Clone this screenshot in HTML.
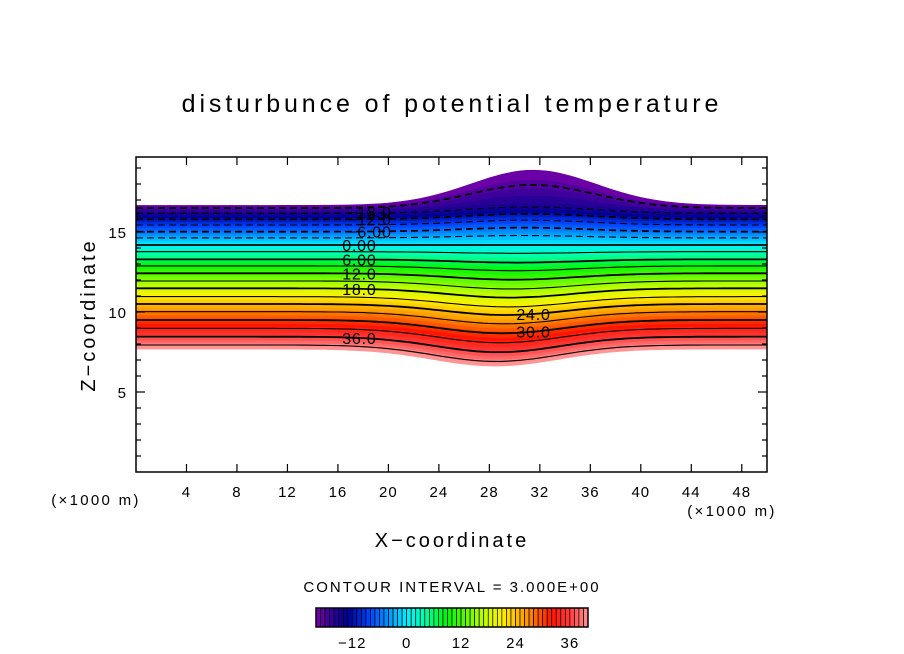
<!DOCTYPE html>
<html><head><meta charset="utf-8"><style>
body{margin:0;background:#fff;}
svg{display:block;font-family:"Liberation Sans",sans-serif;}
</style></head><body>
<svg id="chart" width="904" height="654" viewBox="0 0 904 654">
<text x="452" y="112" font-size="25" text-anchor="middle" letter-spacing="3.9">disturbunce of potential temperature</text>
<g id="fills"></g>
<g id="lines"></g>
<g id="labels" font-size="16" letter-spacing="0.8"></g>
<rect x="136" y="157" width="631" height="315" fill="none" stroke="#000" stroke-width="1.5"/>
<g id="axes" font-size="15" letter-spacing="1"></g>
<text x="96" y="505" font-size="15" text-anchor="middle" letter-spacing="2.3">(×1000 m)</text>
<text x="732" y="516" font-size="15" text-anchor="middle" letter-spacing="2.3">(×1000 m)</text>
<text x="452" y="547" font-size="20" text-anchor="middle" letter-spacing="3">X−coordinate</text>
<text transform="translate(95,315) rotate(-90)" font-size="20" text-anchor="middle" letter-spacing="3">Z−coordinate</text>
<text x="452" y="592" font-size="15" text-anchor="middle" letter-spacing="2">CONTOUR INTERVAL = 3.000E+00</text>
<g id="cbar" font-size="15" letter-spacing="1"></g>
</svg>
<script>
const levels=[-18,-15,-12,-9,-6,-3,0,3,6,9,12,15,18,21,24,27,30,33,36,39];
const baseZ=[16.5,16.17,15.79,15.44,15.02,14.63,14.19,13.77,13.29,12.88,12.42,11.94,11.48,10.96,10.5,10.02,9.5,8.98,8.46,7.94];
const peakShift=[1.44,0.4,0.35,0.3,0.25,0.15,0,-0.1,-0.2,-0.3,-0.4,-0.5,-0.58,-0.64,-0.69,-0.76,-0.83,-0.9,-0.97,-1.03];
const fieldMin=-19.5, fieldMax=40.5;
const topShift=2.2, bottomShift=-1.06;
const xTicks=[4,8,12,16,20,24,28,32,36,40,44,48];
const yTicks=[5,10,15];
const cbarTicks=[-12,0,12,24,36];
const labelItems=[["−18.0",-18,18.5,-0.3],["−12.0",-12,18.5,0],["−6.00",-6,18.5,0],["0.00",0,17.7,0],["6.00",6,17.7,0],["12.0",12,17.7,0],["18.0",18,17.7,0],["36.0",36,17.7,0],["24.0",24,31.5,0],["30.0",30,31.5,0]];

const NS="http://www.w3.org/2000/svg";
const X0=136,X1=767,Y0=472,PX=16;
const xs=x=>X0+x*(X1-X0)/50, ys=z=>Y0-z*PX;
function mk(t,a,p){const e=document.createElementNS(NS,t);for(const k in a)e.setAttribute(k,a[k]);p.appendChild(e);return e;}
function interp(arr,c){let i=Math.floor((c-levels[0])/3);i=Math.max(0,Math.min(levels.length-2,i));const t=(c-levels[i])/3;return arr[i]+(arr[i+1]-arr[i])*t;}
function shiftAt(c){if(c<levels[0]){const t=(levels[0]-c)/1.5;return peakShift[0]+(topShift-peakShift[0])*Math.min(1,t);}if(c>39){const t=(c-39)/1.5;return peakShift[19]+(bottomShift-peakShift[19])*Math.min(1,t);}return interp(peakShift,c);}
function h(c,x){const ctr=30.5-c*0.05;return interp(baseZ,c)+shiftAt(c)*Math.exp(-Math.pow((x-ctr)/7,2));}
const stops=[[-20,[128,0,170]],[-16,[40,0,150]],[-13,[0,0,150]],[-8,[0,70,255]],[-3,[0,170,255]],[0,[0,240,255]],[4,[0,255,170]],[9,[0,245,0]],[17,[190,255,0]],[21,[255,240,0]],[26,[255,160,0]],[32,[255,20,0]],[36,[255,60,60]],[41,[255,170,170]]];
function cmap(v){for(let i=0;i<stops.length-1;i++){if(v<=stops[i+1][0]){const t=Math.max(0,(v-stops[i][0])/(stops[i+1][0]-stops[i][0]));const a=stops[i][1],b=stops[i+1][1];return `rgb(${a.map((q,k)=>Math.round(q+(b[k]-q)*t)).join(',')})`;}}return 'rgb(255,170,170)';}
function line(c){const p=[];for(let x=0;x<=50.001;x+=0.5)p.push([xs(x),ys(h(c,x))]);return p;}

const fills=document.getElementById('fills');
for(let c=fieldMin;c<fieldMax;c+=1){
  const a=line(c),b=line(c+1).reverse();
  const pg=mk('polygon',{points:a.concat(b).map(p=>p[0].toFixed(1)+','+p[1].toFixed(1)).join(' '),fill:cmap(c+0.5),stroke:cmap(c+0.5),'stroke-width':0.6},fills);
  
  
}
const lines=document.getElementById('lines');
levels.forEach((c,i)=>{
  const a={points:line(c).map(p=>p[0].toFixed(1)+','+p[1].toFixed(1)).join(' '),fill:'none',stroke:'#000','stroke-width':(i%2==0?1.8:1.1)};
  if(c<0)a['stroke-dasharray']='7,4';
  const pl=mk('polyline',a,lines);
  
  
});
const labels=document.getElementById('labels');
labelItems.forEach(([t,c,x,dz])=>{
  const tx=mk('text',{x:xs(x),y:ys(h(c,x)+dz)+6,'text-anchor':'middle'},labels);tx.textContent=t;
  
  
});
const axes=document.getElementById('axes');
xTicks.forEach(v=>{
  const X=xs(v);
  mk('line',{x1:X,y1:Y0,x2:X,y2:Y0-8,stroke:'#000','stroke-width':1.2},axes);
  mk('line',{x1:X,y1:157,x2:X,y2:165,stroke:'#000','stroke-width':1.2},axes);
  const t=mk('text',{x:X,y:497,'text-anchor':'middle'},axes);t.textContent=v;
  
  
});
for(let z=1;z<=19;z++){
  const Y=ys(z),L=(z%5==0)?9:5;
  mk('line',{x1:X0,y1:Y,x2:X0+L,y2:Y,stroke:'#000','stroke-width':1.2},axes);
  mk('line',{x1:X1,y1:Y,x2:X1-L,y2:Y,stroke:'#000','stroke-width':1.2},axes);
}
yTicks.forEach(v=>{
  const t=mk('text',{x:127,y:ys(v)+6,'text-anchor':'end'},axes);t.textContent=v;
  
  
});
const cb=document.getElementById('cbar');
const CB0=316,CB1=588,cv0=-20,cv1=40,cx=v=>CB0+(v-cv0)*(CB1-CB0)/(cv1-cv0);
for(let v=cv0;v<cv1;v++){
  const r=mk('rect',{x:cx(v),y:608,width:cx(v+1)-cx(v),height:19,fill:cmap(v+0.5),stroke:'#000','stroke-width':0.7},cb);
  
  
}
mk('rect',{x:CB0,y:608,width:CB1-CB0,height:19,fill:'none',stroke:'#000','stroke-width':1.5},cb);
cbarTicks.forEach(v=>{
  const t=mk('text',{x:cx(v),y:648,'text-anchor':'middle'},cb);t.textContent=(v<0?'−'+(-v):v);
  
  
});
</script>
</body></html>
